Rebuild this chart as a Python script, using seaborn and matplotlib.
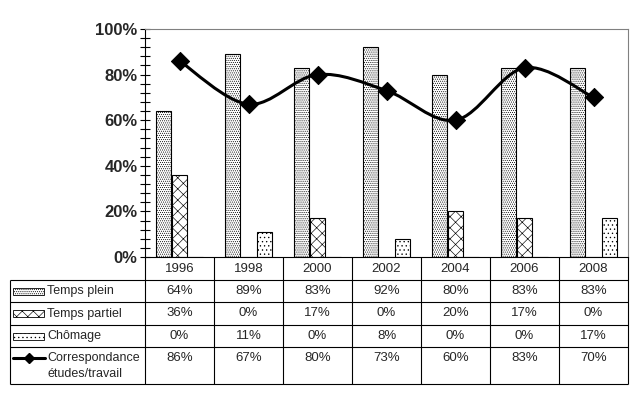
import numpy as np
import pandas as pd
import matplotlib
matplotlib.use("Agg")
import matplotlib.pyplot as plt
import seaborn as sns
from matplotlib.path import Path
from matplotlib.patches import PathPatch, Rectangle

years = ["1996", "1998", "2000", "2002", "2004", "2006", "2008"]
temps_plein = [64, 89, 83, 92, 80, 83, 83]
temps_partiel = [36, 0, 17, 0, 20, 17, 0]
chomage = [0, 11, 0, 8, 0, 0, 17]
correspondance = [86, 67, 80, 73, 60, 83, 70]

bar_series = ["Temps plein", "Temps partiel", "Chômage"]
line_label = ["Correspondance", "études/travail"]
hatches = ["........", "xxx", "...."]

sns.set_style("white")
plt.rcParams["font.family"] = ["Liberation Sans", "DejaVu Sans"]
plt.rcParams["hatch.linewidth"] = 0.45

df = pd.DataFrame({
    "Année": years * 3,
    "Série": np.repeat(bar_series, len(years)),
    "Valeur": temps_plein + temps_partiel + chomage,
})

# figure layout in pixels
W, H = 639, 399
L, R, T, B = 145, 628, 29, 257

fig = plt.figure(figsize=(W / 100, H / 100), dpi=100)
ax = fig.add_axes([L / W, 1 - B / H, (R - L) / W, (B - T) / H])

sns.barplot(data=df, x="Année", y="Valeur", hue="Série", palette=["white"] * 3,
            width=0.69, gap=0.05, edgecolor="black", linewidth=0.8,
            legend=False, ax=ax)
for cont, h in zip(ax.containers, hatches):
    for p in cont:
        p.set_hatch(h)

# smoothed line (Excel-like bezier smoothing)
xs = np.arange(len(years))
pts = np.column_stack([xs, correspondance]).astype(float)
ext = np.vstack([pts[:1], pts, pts[-1:]])
verts = [pts[0]]
codes = [Path.MOVETO]
for i in range(len(pts) - 1):
    p0, p1, p2, p3 = ext[i], ext[i + 1], ext[i + 2], ext[i + 3]
    verts += [p1 + (p2 - p0) / 6, p2 - (p3 - p1) / 6, p2]
    codes += [Path.CURVE4] * 3
ax.add_patch(PathPatch(Path(verts, codes), fill=False, lw=2.2, edgecolor="black",
                       capstyle="round", joinstyle="round", zorder=3))
sns.scatterplot(x=xs, y=correspondance, marker="D", s=85, color="black",
                edgecolor="black", ax=ax, zorder=5, legend=False)

ax.set_xlim(-0.5, len(years) - 0.5)
ax.set_ylim(0, 100)
ax.set_yticks(range(0, 101, 20))
ax.set_yticklabels([f"{v}%" for v in range(0, 101, 20)], fontsize=12, fontweight="bold")
ax.set_yticks(range(0, 101, 4), minor=True)
ax.tick_params(axis="y", which="both", direction="inout", length=6.5, width=0.8,
               color="black", left=True, pad=2)
ax.set_xticks([])
ax.set_xlabel("")
ax.set_ylabel("")
for s in ["left", "bottom"]:
    ax.spines[s].set_color("black")
    ax.spines[s].set_linewidth(0.8)
for s in ["top", "right"]:
    ax.spines[s].set_color("#808080")
    ax.spines[s].set_linewidth(0.8)

# data table below the plot
tab = fig.add_axes([0, 0, 1, 1], zorder=-1)
tab.set_xlim(0, W)
tab.set_ylim(H, 0)
tab.axis("off")

edges = np.linspace(L, R, len(years) + 1)
centers = (edges[:-1] + edges[1:]) / 2
rows = [B, 280, 302, 325, 347, 384]
left = 10
lc = dict(color="black", lw=0.8, solid_capstyle="butt")
for y in rows[1:]:
    tab.plot([left, R], [y, y], **lc)
for x in edges:
    tab.plot([x, x], [B, rows[-1]], **lc)
tab.plot([left, left], [rows[1], rows[-1]], **lc)

fs = 9.5
for c, yr in zip(centers, years):
    tab.text(c, 269, yr, ha="center", va="center", fontsize=fs)

row_series = [temps_plein, temps_partiel, chomage, correspondance]
row_y = [291, 313.5, 336, 358]
for vals, y in zip(row_series, row_y):
    for c, v in zip(centers, vals):
        tab.text(c, y, f"{v}%", ha="center", va="center", fontsize=fs)

lab_fs = 9
for name, h, y in zip(bar_series, hatches, row_y):
    tab.add_patch(Rectangle((13, y - 3.5), 31, 7, facecolor="white",
                            edgecolor="black", hatch=h, lw=0.6))
    tab.text(47, y, name, ha="left", va="center", fontsize=lab_fs)

tab.plot([13, 45], [row_y[3], row_y[3]], color="black", lw=2.2)
tab.plot([29], [row_y[3]], marker="D", ms=5.5, color="black")
tab.text(47, row_y[3], line_label[0], ha="left", va="center", fontsize=lab_fs)
tab.text(47, 374, line_label[1], ha="left", va="center", fontsize=lab_fs)

fig.savefig("out.png", dpi=100)
